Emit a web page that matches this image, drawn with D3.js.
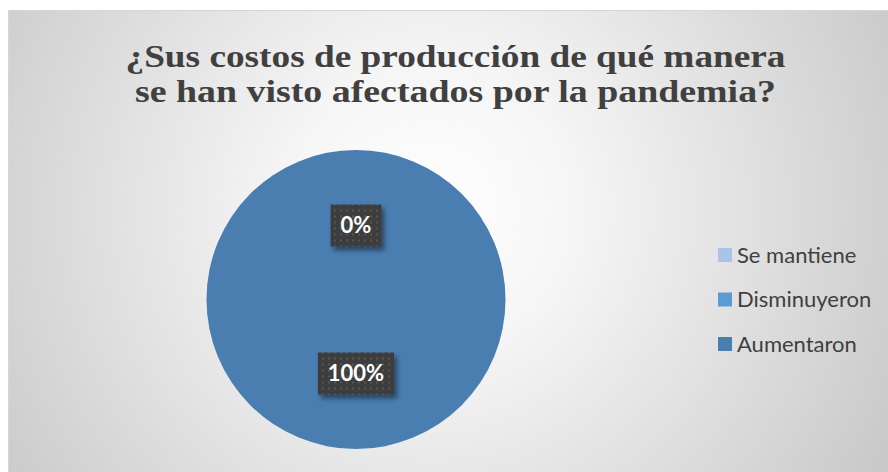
<!DOCTYPE html>
<html><head><meta charset="utf-8">
<script src="https://cdn.jsdelivr.net/npm/d3@7"></script>
<style>html,body{margin:0;padding:0;background:#fff;}svg{display:block;}</style>
</head><body>
<svg id="c" width="888" height="472"></svg>
<script>
const categories = ["Se mantiene", "Disminuyeron", "Aumentaron"];
const values = [0, 0, 100];
const colors = ["#a9c4e8", "#5b9bd5", "#4a7eb1"];
const titleLines = ["¿Sus costos de producción de qué manera", "se han visto afectados por la pandemia?"];

const svg = d3.select("#c");
const W = 888, H = 472;
const defs = svg.append("defs");

const bg = defs.append("radialGradient").attr("id", "bg")
  .attr("gradientUnits", "userSpaceOnUse")
  .attr("cx", 430).attr("cy", 210).attr("r", 560);
bg.append("stop").attr("offset", "0").attr("stop-color", "#ffffff");
bg.append("stop").attr("offset", "0.25").attr("stop-color", "#f6f6f6");
bg.append("stop").attr("offset", "1").attr("stop-color", "#c4c4c4");

const pat = defs.append("pattern").attr("id", "dots")
  .attr("patternUnits", "userSpaceOnUse").attr("width", 6).attr("height", 6);
pat.append("rect").attr("width", 6).attr("height", 6).attr("fill", "#3d3d3d");
pat.append("rect").attr("x", 2).attr("y", 2).attr("width", 2).attr("height", 2).attr("fill", "#545454");

const sh = defs.append("filter").attr("id", "sh").attr("x", "-30%").attr("y", "-30%").attr("width", "170%").attr("height", "170%");
sh.append("feDropShadow").attr("dx", 3).attr("dy", 4).attr("stdDeviation", 2.5)
  .attr("flood-color", "#000").attr("flood-opacity", 0.45);

svg.append("rect").attr("x", 8.5).attr("y", 10.5).attr("width", W).attr("height", H)
  .attr("fill", "url(#bg)").attr("stroke", "#d6d6d6").attr("stroke-width", 1);

const titleWidths = [660, 641];
const title = svg.append("g")
  .attr("font-family", "'Liberation Serif','Times New Roman',serif")
  .attr("font-weight", "bold").attr("font-size", 32).attr("fill", "#404040");
titleLines.forEach((t, i) => {
  title.append("text").attr("text-anchor", "middle").attr("x", 455.5).attr("y", 67 + i * 35)
    .attr("textLength", titleWidths[i]).attr("lengthAdjust", "spacingAndGlyphs").text(t);
});

const cx = 356, cy = 299.5, r = 149.5;
const pie = d3.pie().sort(null).value(d => d)(values);
const arc = d3.arc().innerRadius(0).outerRadius(r);
const labelArc = d3.arc().innerRadius(r * 0.495).outerRadius(r * 0.495);

const g = svg.append("g").attr("transform", `translate(${cx},${cy})`);
g.selectAll("path.slice").data(pie).join("path")
  .attr("class", "slice")
  .attr("d", arc)
  .attr("fill", (d, i) => colors[i]);

const total = d3.sum(values);
const seen = new Set();
const labelData = pie.filter(d => {
  const key = labelArc.centroid(d).map(v => Math.round(v)).join(",");
  if (seen.has(key)) return false;
  seen.add(key); return true;
});
labelData.forEach(d => {
  const [x, y] = labelArc.centroid(d);
  const lg = g.append("g").attr("transform", `translate(${x},${y})`);
  const txt = Math.round(d.value / total * 100) + "%";
  const box = lg.append("rect").attr("fill", "url(#dots)").attr("filter", "url(#sh)");
  const t = lg.append("text").attr("text-anchor", "middle").attr("dy", "0.36em")
    .attr("font-family", "Lato,'Open Sans',sans-serif")
    .attr("font-weight", "bold").attr("font-size", 22).attr("fill", "#ffffff").text(txt);
  const bb = t.node().getBBox();
  const pw = 10;
  box.attr("x", -bb.width / 2 - pw).attr("y", -21).attr("width", bb.width + 2 * pw).attr("height", 42);
});

const leg = svg.append("g");
categories.forEach((c, i) => {
  const y = 255 + i * 44.5;
  leg.append("rect").attr("x", 718).attr("y", y - 7).attr("width", 14).attr("height", 14).attr("fill", colors[i]);
  leg.append("text").attr("x", 737).attr("y", y).attr("dy", "0.36em")
    .attr("font-family", "Lato,'Open Sans',sans-serif")
    .attr("font-size", 22).attr("fill", "#404040").text(c);
});
</script>
</body></html>
